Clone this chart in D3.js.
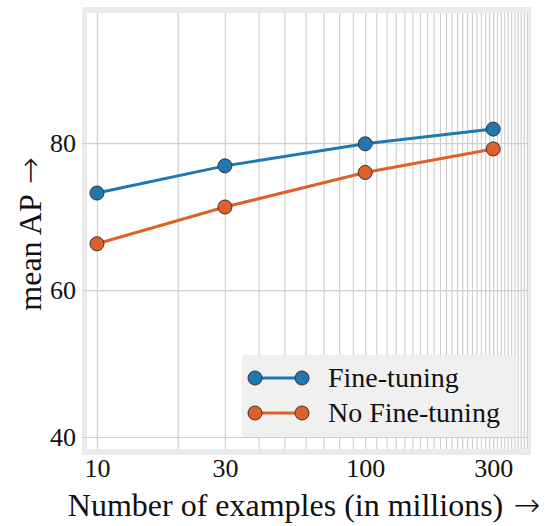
<!DOCTYPE html>
<html>
<head>
<meta charset="utf-8">
<script src="https://cdn.jsdelivr.net/npm/d3@7"></script>
<style>
  html, body { margin: 0; padding: 0; background: #fff; }
  svg text { font-family: "Liberation Serif", "DejaVu Serif", serif; fill: #111; }
  svg text .arrow { font-family: "DejaVu Sans", sans-serif; font-weight: 300; }
</style>
</head>
<body>
<svg id="chart" width="548" height="526"></svg>
<script>
// Training set size (millions of examples)
const examples = [10, 30, 100, 300];
// mean AP for each training regime
const fineTuning = [73.2, 76.9, 79.9, 81.9];
const noFineTuning = [66.3, 71.3, 76.0, 79.2];
const seriesNames = ["Fine-tuning", "No Fine-tuning"];
const seriesColors = ["#1f77b4", "#e0602a"];
const xTickLabels = [10, 30, 100, 300];
const yTickLabels = [40, 60, 80];

const series = [
  { name: seriesNames[0], color: seriesColors[0], values: fineTuning },
  { name: seriesNames[1], color: seriesColors[1], values: noFineTuning }
];

const svg = d3.select("#chart");
const plot = { left: 87, right: 527, top: 13, bottom: 449 };
const frame = 5;

const x = d3.scaleLog().domain([9.18, 401]).range([plot.left, plot.right]);
const y = d3.scaleLinear().domain([38.37, 97.7]).range([plot.bottom, plot.top]);

// gray frame and white plotting area
svg.append("rect")
  .attr("x", plot.left - frame).attr("y", plot.top - frame - 1)
  .attr("width", plot.right - plot.left + 2 * frame - 1)
  .attr("height", plot.bottom - plot.top + 2 * frame + 2)
  .attr("fill", "#ebebeb");
svg.append("rect")
  .attr("x", plot.left).attr("y", plot.top)
  .attr("width", plot.right - plot.left).attr("height", plot.bottom - plot.top)
  .attr("fill", "#fff");

const gridColor = "#cfcfcf";

// vertical grid: every multiple of ten across the log axis
const xGrid = d3.range(10, 401, 10);
svg.append("g")
  .attr("transform", `translate(0,${plot.bottom})`)
  .call(d3.axisBottom(x).tickValues(xGrid).tickSize(-(plot.bottom - plot.top)).tickFormat(""))
  .call(g => g.select(".domain").remove())
  .call(g => g.selectAll("line").attr("stroke", gridColor).attr("stroke-width", 1.2));

// horizontal grid, extending into the frame as ticks
svg.append("g")
  .attr("transform", `translate(${plot.right},0)`)
  .call(d3.axisLeft(y).tickValues(yTickLabels).tickSize(plot.right - plot.left + frame).tickFormat(""))
  .call(g => g.select(".domain").remove())
  .call(g => g.selectAll("line").attr("stroke", gridColor).attr("stroke-width", 1.2));

// tick labels
svg.append("g")
  .attr("transform", `translate(0,${plot.bottom + frame})`)
  .call(d3.axisBottom(x).tickValues(xTickLabels).tickSize(0).tickPadding(5).tickFormat(d3.format("d")))
  .call(g => g.select(".domain").remove())
  .call(g => g.selectAll("text").style("font-size", "26px").attr("fill", "#111"));

svg.append("g")
  .attr("transform", `translate(${plot.left - frame - 2},0)`)
  .call(d3.axisLeft(y).tickValues(yTickLabels).tickSize(0).tickPadding(4).tickFormat(d3.format("d")))
  .call(g => g.select(".domain").remove())
  .call(g => g.selectAll("text").style("font-size", "26px").attr("fill", "#111"));

// lines and markers
const line = d3.line().x((d, i) => x(examples[i])).y(d => y(d));
series.forEach(s => {
  svg.append("path")
    .datum(s.values)
    .attr("d", line)
    .attr("fill", "none")
    .attr("stroke", s.color)
    .attr("stroke-width", 3);
  svg.append("g").selectAll("circle")
    .data(s.values)
    .join("circle")
    .attr("cx", (d, i) => x(examples[i]))
    .attr("cy", d => y(d))
    .attr("r", 7)
    .attr("fill", s.color)
    .attr("stroke", "#333")
    .attr("stroke-width", 1);
});

// legend
const legend = svg.append("g").attr("transform", "translate(242,355)");
legend.append("rect")
  .attr("width", 273).attr("height", 82).attr("rx", 3)
  .attr("fill", "#efefef").attr("opacity", 0.97);
series.forEach((s, i) => {
  const ly = 23 + i * 35;
  legend.append("line")
    .attr("x1", 13).attr("x2", 60).attr("y1", ly).attr("y2", ly)
    .attr("stroke", s.color).attr("stroke-width", 3);
  [13, 60].forEach(cx => legend.append("circle")
    .attr("cx", cx).attr("cy", ly).attr("r", 7)
    .attr("fill", s.color).attr("stroke", "#333").attr("stroke-width", 1));
  legend.append("text")
    .attr("x", 86).attr("y", ly + 9)
    .style("font-size", "28px")
    .text(s.name);
});

// axis titles; the arrow is set in a font with a full-width glyph
function title(textSel, words, size) {
  textSel.style("font-size", size + "px")
    .selectAll("tspan").data(words).join("tspan")
    .attr("class", d => d === "→" ? "arrow" : null)
    .text((d, i) => (i ? " " : "") + d);
}

const xTitle = svg.append("text")
  .attr("x", 304).attr("y", 516)
  .attr("text-anchor", "middle");
title(xTitle, ["Number", "of", "examples", "(in", "millions)", "→"], 32);

const yTitle = svg.append("text")
  .attr("transform", "translate(41,234) rotate(-90)")
  .attr("text-anchor", "middle");
title(yTitle, ["mean", "AP", "→"], 32);
</script>
</body>
</html>
